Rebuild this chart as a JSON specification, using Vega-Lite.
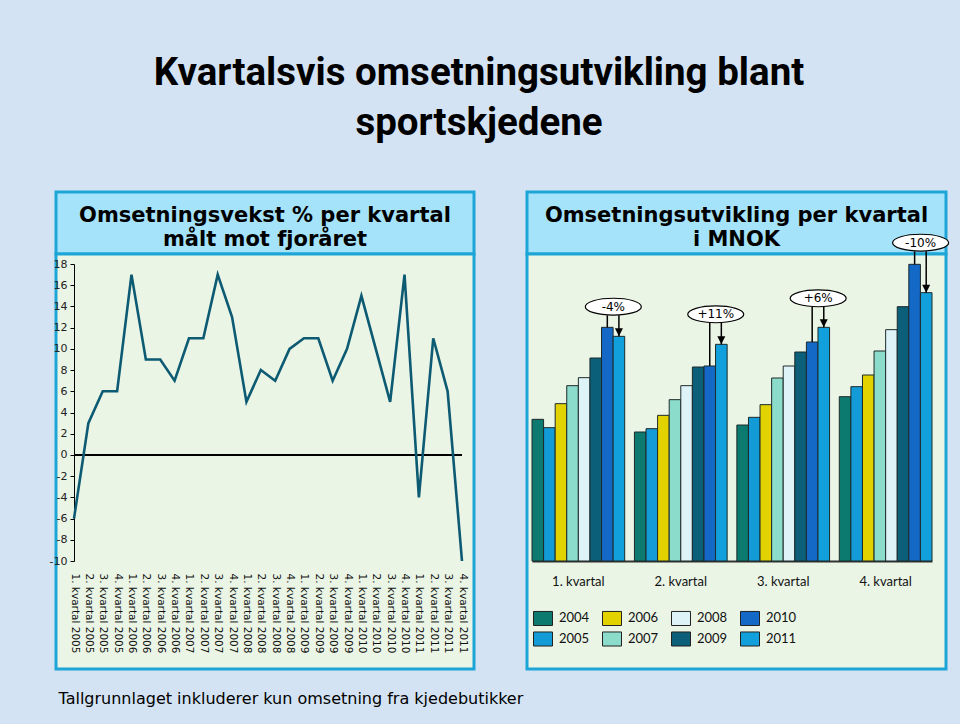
{
  "$schema": "https://vega.github.io/schema/vega-lite/v6.json",
  "background": "#d4e3f3",
  "padding": {"left": 47, "top": 54, "right": 25, "bottom": 20},
  "title": {
    "text": ["Kvartalsvis omsetningsutvikling blant", "sportskjedene"],
    "font": "Roboto",
    "fontSize": 38.5,
    "fontWeight": "bold",
    "lineHeight": 50,
    "color": "#000000",
    "anchor": "middle",
    "dx": -21,
    "offset": 47
  },
  "vconcat": [
    {
      "title": {
        "text": "Tallgrunnlaget inkluderer kun omsetning fra kjedebutikker",
        "orient": "bottom",
        "anchor": "start",
        "font": "DejaVu Sans",
        "fontSize": 16,
        "fontWeight": "normal",
        "color": "#000000",
        "dx": 11,
        "offset": 20
      },
      "columns": 2,
      "spacing": {"row": 0, "column": 53},
      "bounds": "flush",
      "concat": [
        {
          "width": 418,
          "height": 62,
          "view": {"fill": "#a5e3fa", "stroke": "#1ea5d8", "strokeWidth": 3},
          "data": {"values": [
            {"linje": "Omsetningsvekst % per kvartal"},
            {"linje": "målt mot fjoråret"}
          ]},
          "mark": {"type": "text", "font": "DejaVu Sans", "fontWeight": "bold", "fontSize": 21, "color": "#000000", "dy": 5},
          "encoding": {
            "y": {"field": "linje", "type": "nominal", "sort": null, "axis": null, "scale": {"type": "point", "padding": 0.79}},
            "text": {"field": "linje"}
          }
        },
        {
          "width": 419,
          "height": 62,
          "view": {"fill": "#a5e3fa", "stroke": "#1ea5d8", "strokeWidth": 3},
          "data": {"values": [
            {"linje": "Omsetningsutvikling per kvartal"},
            {"linje": "i MNOK"}
          ]},
          "mark": {"type": "text", "font": "DejaVu Sans", "fontWeight": "bold", "fontSize": 21, "color": "#000000", "dy": 5},
          "encoding": {
            "y": {"field": "linje", "type": "nominal", "sort": null, "axis": null, "scale": {"type": "point", "padding": 0.79}},
            "text": {"field": "linje"}
          }
        },
        {
          "width": 418,
          "height": 415,
          "view": {"fill": "#ebf5e6", "stroke": "#1ea5d8", "strokeWidth": 3},
          "data": {"values": [
            {"kvartal": "1. kvartal 2005", "vekst": -6},
            {"kvartal": "2. kvartal 2005", "vekst": 3},
            {"kvartal": "3. kvartal 2005", "vekst": 6},
            {"kvartal": "4. kvartal 2005", "vekst": 6},
            {"kvartal": "1. kvartal 2006", "vekst": 17},
            {"kvartal": "2. kvartal 2006", "vekst": 9},
            {"kvartal": "3. kvartal 2006", "vekst": 9},
            {"kvartal": "4. kvartal 2006", "vekst": 7},
            {"kvartal": "1. kvartal 2007", "vekst": 11},
            {"kvartal": "2. kvartal 2007", "vekst": 11},
            {"kvartal": "3. kvartal 2007", "vekst": 17},
            {"kvartal": "4. kvartal 2007", "vekst": 13},
            {"kvartal": "1. kvartal 2008", "vekst": 5},
            {"kvartal": "2. kvartal 2008", "vekst": 8},
            {"kvartal": "3. kvartal 2008", "vekst": 7},
            {"kvartal": "4. kvartal 2008", "vekst": 10},
            {"kvartal": "1. kvartal 2009", "vekst": 11},
            {"kvartal": "2. kvartal 2009", "vekst": 11},
            {"kvartal": "3. kvartal 2009", "vekst": 7},
            {"kvartal": "4. kvartal 2009", "vekst": 10},
            {"kvartal": "1. kvartal 2010", "vekst": 15},
            {"kvartal": "2. kvartal 2010", "vekst": 10},
            {"kvartal": "3. kvartal 2010", "vekst": 5},
            {"kvartal": "4. kvartal 2010", "vekst": 17},
            {"kvartal": "1. kvartal 2011", "vekst": -4},
            {"kvartal": "2. kvartal 2011", "vekst": 11},
            {"kvartal": "3. kvartal 2011", "vekst": 6},
            {"kvartal": "4. kvartal 2011", "vekst": -10}
          ]},
          "encoding": {
            "x": {
              "field": "kvartal",
              "type": "ordinal",
              "scale": {
                "type": "point",
                "range": [18, 406],
                "padding": 0,
                "domain": ["1. kvartal 2005","2. kvartal 2005","3. kvartal 2005","4. kvartal 2005","1. kvartal 2006","2. kvartal 2006","3. kvartal 2006","4. kvartal 2006","1. kvartal 2007","2. kvartal 2007","3. kvartal 2007","4. kvartal 2007","1. kvartal 2008","2. kvartal 2008","3. kvartal 2008","4. kvartal 2008","1. kvartal 2009","2. kvartal 2009","3. kvartal 2009","4. kvartal 2009","1. kvartal 2010","2. kvartal 2010","3. kvartal 2010","4. kvartal 2010","1. kvartal 2011","2. kvartal 2011","3. kvartal 2011","4. kvartal 2011"]
              },
              "axis": {
                "title": null,
                "offset": -108,
                "domain": false,
                "ticks": false,
                "labelAngle": 90,
                "labelAlign": "left",
                "labelBaseline": "middle",
                "labelPadding": 12,
                "labelFont": "DejaVu Sans",
                "labelFontSize": 10.5,
                "labelColor": "#111111",
                "labelOverlap": false
              }
            },
            "y": {
              "field": "vekst",
              "type": "quantitative",
              "scale": {"domain": [-10, 18], "range": [307, 10], "nice": false, "zero": false},
              "axis": {
                "title": null,
                "values": [-10, -8, -6, -4, -2, 0, 2, 4, 6, 8, 10, 12, 14, 16, 18],
                "labelExpr": "'' + datum.value",
                "labelOverlap": false,
                "offset": -18,
                "grid": false,
                "domainColor": "#000000",
                "tickColor": "#000000",
                "tickSize": 4,
                "labelPadding": 3,
                "labelFont": "DejaVu Sans",
                "labelFontSize": 11,
                "labelColor": "#222222"
              }
            }
          },
          "layer": [
            {
              "mark": {"type": "rule", "color": "#000000", "strokeWidth": 1},
              "encoding": {
                "x": {"datum": "1. kvartal 2005"},
                "x2": {"datum": "4. kvartal 2011"},
                "y": {
                  "datum": 0,
                  "axis": {
                    "title": null,
                    "values": [-10, -8, -6, -4, -2, 0, 2, 4, 6, 8, 10, 12, 14, 16, 18],
                    "labelExpr": "'' + datum.value",
                    "labelOverlap": false,
                    "offset": -18,
                    "grid": false,
                    "domainColor": "#000000",
                    "tickColor": "#000000",
                    "tickSize": 4,
                    "labelPadding": 3,
                    "labelFont": "DejaVu Sans",
                    "labelFontSize": 11,
                    "labelColor": "#222222"
                  }
                }
              }
            },
            {
              "mark": {"type": "line", "color": "#0d5a73", "strokeWidth": 2.6}
            }
          ]
        },
        {
          "width": 419,
          "height": 415,
          "view": {"fill": "#ebf5e6", "stroke": "#1ea5d8", "strokeWidth": 3},
          "encoding": {
            "x": {
              "field": "kvartal",
              "type": "nominal",
              "scale": {"type": "band", "domain": ["1. kvartal", "2. kvartal", "3. kvartal", "4. kvartal"], "range": [5, 405], "paddingInner": 0.095, "paddingOuter": 0},
              "axis": {
                "title": null,
                "offset": -108,
                "domain": true,
                "domainColor": "#333333",
                "domainWidth": 2,
                "ticks": false,
                "labelAngle": 0,
                "labelPadding": 14,
                "labelFont": "Lato",
                "labelFontSize": 13,
                "labelColor": "#111111"
              }
            }
          },
          "layer": [
            {
              "data": {"values": [
                {"kvartal": "1. kvartal", "år": "2004", "mnok": 425},
                {"kvartal": "1. kvartal", "år": "2005", "mnok": 400},
                {"kvartal": "1. kvartal", "år": "2006", "mnok": 472},
                {"kvartal": "1. kvartal", "år": "2007", "mnok": 526},
                {"kvartal": "1. kvartal", "år": "2008", "mnok": 550},
                {"kvartal": "1. kvartal", "år": "2009", "mnok": 609},
                {"kvartal": "1. kvartal", "år": "2010", "mnok": 701},
                {"kvartal": "1. kvartal", "år": "2011", "mnok": 674},
                {"kvartal": "2. kvartal", "år": "2004", "mnok": 387},
                {"kvartal": "2. kvartal", "år": "2005", "mnok": 397},
                {"kvartal": "2. kvartal", "år": "2006", "mnok": 437},
                {"kvartal": "2. kvartal", "år": "2007", "mnok": 484},
                {"kvartal": "2. kvartal", "år": "2008", "mnok": 526},
                {"kvartal": "2. kvartal", "år": "2009", "mnok": 582},
                {"kvartal": "2. kvartal", "år": "2010", "mnok": 585},
                {"kvartal": "2. kvartal", "år": "2011", "mnok": 650},
                {"kvartal": "3. kvartal", "år": "2004", "mnok": 408},
                {"kvartal": "3. kvartal", "år": "2005", "mnok": 431},
                {"kvartal": "3. kvartal", "år": "2006", "mnok": 469},
                {"kvartal": "3. kvartal", "år": "2007", "mnok": 549},
                {"kvartal": "3. kvartal", "år": "2008", "mnok": 585},
                {"kvartal": "3. kvartal", "år": "2009", "mnok": 627},
                {"kvartal": "3. kvartal", "år": "2010", "mnok": 657},
                {"kvartal": "3. kvartal", "år": "2011", "mnok": 701},
                {"kvartal": "4. kvartal", "år": "2004", "mnok": 493},
                {"kvartal": "4. kvartal", "år": "2005", "mnok": 523},
                {"kvartal": "4. kvartal", "år": "2006", "mnok": 558},
                {"kvartal": "4. kvartal", "år": "2007", "mnok": 630},
                {"kvartal": "4. kvartal", "år": "2008", "mnok": 694},
                {"kvartal": "4. kvartal", "år": "2009", "mnok": 763},
                {"kvartal": "4. kvartal", "år": "2010", "mnok": 890},
                {"kvartal": "4. kvartal", "år": "2011", "mnok": 805}
              ]},
              "mark": {"type": "bar", "stroke": "#1d2a2a", "strokeWidth": 1},
              "encoding": {
                "xOffset": {"field": "år", "type": "nominal", "scale": {"domain": ["2004","2005","2006","2007","2008","2009","2010","2011"], "paddingInner": 0, "paddingOuter": 0}},
                "y": {"field": "mnok", "type": "quantitative", "scale": {"domain": [0, 900], "range": [307, 7], "nice": false}, "axis": null},
                "color": {
                  "field": "år",
                  "type": "nominal",
                  "scale": {
                    "domain": ["2004","2005","2006","2007","2008","2009","2010","2011"],
                    "range": ["#0c7a6f","#129bd6","#e2d200","#8cdccb","#ddf3f7","#0b5f78","#1469c6","#11a0dc"]
                  },
                  "legend": {
                    "orient": "none",
                    "legendX": 477,
                    "legendY": 416,
                    "columns": 4,
                    "direction": "horizontal",
                    "values": ["2004","2006","2008","2010","2005","2007","2009","2011"],
                    "title": null,
                    "symbolType": "M-1,-0.74H1V0.74H-1Z",
                    "symbolSize": 361,
                    "symbolStrokeColor": "#222222",
                    "symbolStrokeWidth": 1,
                    "symbolOpacity": 1,
                    "labelFont": "Lato",
                    "labelFontSize": 13,
                    "labelColor": "#111111",
                    "labelOffset": 6,
                    "columnPadding": 10,
                    "rowPadding": 1
                  }
                }
              }
            },
            {
              "data": {"name": "endringer", "values": [
                {"kvartal": "1. kvartal", "endring": "-4%", "midt": 763, "bunn": 737, "topp2010": 701, "topp2011": 674},
                {"kvartal": "2. kvartal", "endring": "+11%", "midt": 740, "bunn": 714, "topp2010": 585, "topp2011": 650},
                {"kvartal": "3. kvartal", "endring": "+6%", "midt": 788, "bunn": 762, "topp2010": 657, "topp2011": 701},
                {"kvartal": "4. kvartal", "endring": "-10%", "midt": 955, "bunn": 929, "topp2010": 890, "topp2011": 805}
              ]},
              "layer": [
                {
                  "mark": {"type": "rule", "color": "#000000", "strokeWidth": 1.5},
                  "encoding": {
                    "xOffset": {"datum": "2010"},
                    "y": {"field": "topp2010", "type": "quantitative"},
                    "y2": {"field": "bunn"}
                  }
                },
                {
                  "mark": {"type": "rule", "color": "#000000", "strokeWidth": 1.5},
                  "encoding": {
                    "xOffset": {"datum": "2011"},
                    "y": {"field": "bunn", "type": "quantitative"},
                    "y2": {"field": "topp2011"}
                  }
                },
                {
                  "mark": {"type": "point", "shape": "M-1,-2L1,-2L0,0Z", "size": 64, "filled": true, "color": "#000000", "opacity": 1},
                  "encoding": {
                    "xOffset": {"datum": "2011"},
                    "y": {"field": "topp2011", "type": "quantitative"}
                  }
                },
                {
                  "mark": {"type": "point", "shape": "M-0.786,0A1,0.3,0,1,0,1.214,0A1,0.3,0,1,0,-0.786,0Z", "size": 3136, "filled": true, "fill": "#ffffff", "stroke": "#000000", "strokeWidth": 1.2, "opacity": 1},
                  "encoding": {
                    "xOffset": {"datum": "2010"},
                    "y": {"field": "midt", "type": "quantitative"}
                  }
                },
                {
                  "mark": {"type": "text", "font": "DejaVu Sans", "fontSize": 12, "color": "#000000", "dx": 6, "baseline": "middle", "align": "center"},
                  "encoding": {
                    "xOffset": {"datum": "2010"},
                    "y": {"field": "midt", "type": "quantitative"},
                    "text": {"field": "endring"}
                  }
                }
              ]
            }
          ]
        }
      ]
    }
  ],
  "config": {
    "font": "DejaVu Sans",
    "axisY": {"labelOverlap": false}
  }
}
